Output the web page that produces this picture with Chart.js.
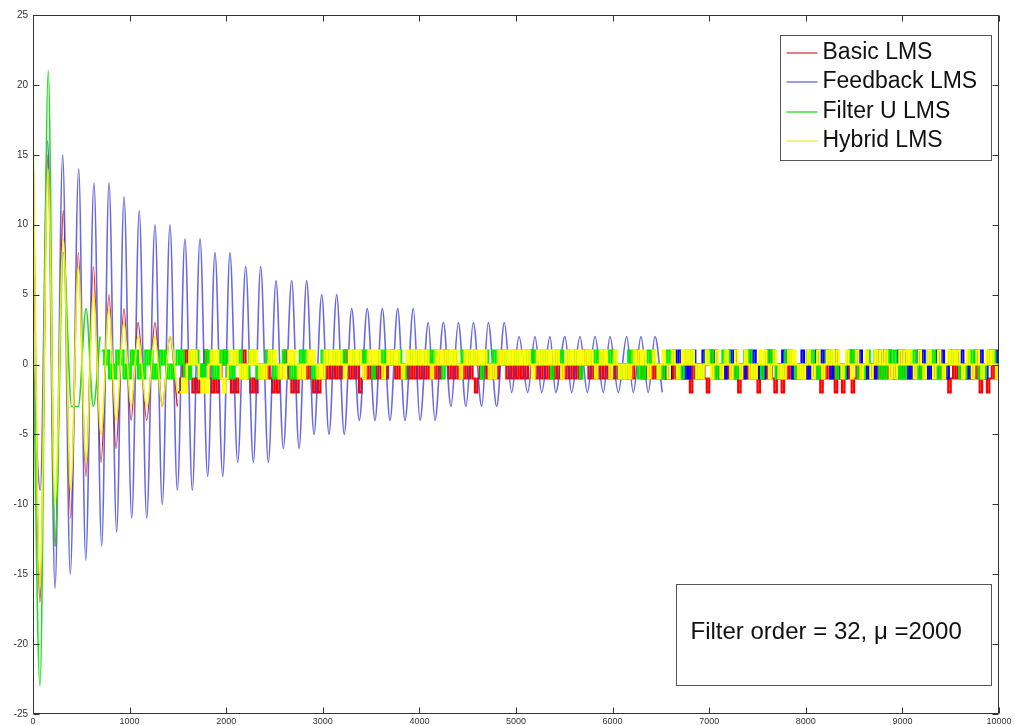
<!DOCTYPE html>
<html>
<head>
<meta charset="utf-8">
<title>LMS output comparison</title>
<script src="https://cdn.jsdelivr.net/npm/chart.js@4.4.1/dist/chart.umd.min.js"></script>
<style>
  html, body { margin: 0; padding: 0; background: #fff; }
  canvas { display: block; }
</style>
</head>
<body>
<canvas id="lms" width="1015" height="725"></canvas>
<script>
'use strict';

/* ════════════════════════════════════════
   LMS 출력 비교 (order 32, mu 2000)
   ════════════════════════════════════════ */

var seriesNames = ['Basic LMS', 'Feedback LMS', 'Filter U LMS', 'Hybrid LMS'];
var legendColors = ['#e0505e', '#7a7ae0', '#40dd40', '#eeee50'];
var noteText = 'Filter order = 32, \u03bc =2000';

var xTicks = [0, 1000, 2000, 3000, 4000, 5000, 6000, 7000, 8000, 9000, 10000];
var yTicks = [-25, -20, -15, -10, -5, 0, 5, 10, 15, 20, 25];

/* ─── start-up transient: peaks / troughs (sample, value) ─── */
var basicX = [0, 72, 155, 228, 314, 390, 469, 549, 625, 704, 787, 859, 942, 1015, 1087, 1177, 1263, 1338, 1418, 1494];
var basicY = [16, -17, 15, -13, 11, -11, 8, -8, 7, -7, 5, -6, 4, -4, 3, -4, 3, -3, 2, -3];

var feedbackX = [0, 75, 152, 228, 307, 386, 473, 546, 631, 711,
  787, 866, 942, 1022, 1100, 1177, 1263, 1338, 1418, 1494,
  1573, 1649, 1729, 1808, 1884, 1964, 2039, 2119, 2202, 2281,
  2357, 2436, 2516, 2591, 2678, 2754, 2833, 2909, 2989, 3064,
  3144, 3222, 3299, 3378, 3460, 3540, 3616, 3696, 3775, 3851,
  3937, 4006, 4092, 4161, 4248, 4327, 4403, 4482, 4558, 4645,
  4713, 4800, 4879, 4955, 5031, 5121, 5197, 5266, 5352, 5411,
  5507, 5576, 5663, 5738, 5818, 5904, 5973, 6059, 6146, 6214,
  6294, 6369, 6439, 6514];
var feedbackY = [0, -9, 16, -16, 15, -15, 14, -14, 13, -13,
  13, -12, 12, -11, 11, -11, 10, -10, 10, -9,
  9, -9, 9, -8, 8, -8, 8, -7, 7, -7,
  7, -7, 6, -6, 6, -6, 6, -5, 5, -5,
  5, -5, 4, -4, 4, -4, 4, -4, 4, -4,
  4, -4, 3, -4, 3, -3, 3, -3, 3, -3,
  3, -3, 3, -2, 2, -2, 2, -2, 2, -2,
  2, -2, 2, -2, 2, -2, 2, -2, 2, -2,
  2, -2, 2, -2];

var filterUX = [0, 72, 158, 228, 314, 400, 469, 549, 625, 694];
var filterUY = [3, -23, 21, -13, 8, -3, -3, 4, -3, 2];

var hybridX = [0, 72, 155, 228, 314, 390, 469, 549, 625, 704, 787, 859, 942, 1015, 1087, 1177, 1263, 1338, 1418, 1494];
var hybridY = [17, -16, 14, -10, 9, -9, 7, -7, 5, -5, 4, -4, 3, -3, 2, -3, 2, -3, 2, -2];

/* ─── steady state: one char per 25 samples, one row per 1000 samples ───
   ^ = 2, + = 1, o = 0, - = -1, _ = -2, . = (transient part) */
var BAND_STEP = 25;
var LEVEL = { '^': 2, '+': 1, 'o': 0, '-': -1, '_': -2 };

var basicBand = [
  '..... ..... ..... ..... ..... ..... ..... .....',
  '..... ..... ..... ..... _-o+o -_-_- o+o-_ -_-o+',
  'o-_-_ -o+o- _-_-o o-o-_ -_-o+ o-_-_ -oo-o -_-_-',
  'o-o-o -o-o+ o-o-o _-o-o -o-o- o-o+o -o-o- o-o-o',
  '-o-o- o-o-o +o-o- o-o-o -o-_- o-o-o -o-o+ o-o-o',
  '-o-o- o+o-o -o-o- o-o-o -o-o- o-o+o -o-o- o-o-o',
  '-o-o- o-o-o +o-o- o-o-o -o-o- o-o-o -o_o- o-o-_',
  '-o-o- o-o-o -o_o- o-o-o _o-o- o-_-o _o-o- o-o-o',
  '-o-o- o_o-o -o_o- _-o-_ -o-o- o-o-o -o-o- o-o-o',
  '-o-o- o-o-o -o-o- o-o-_ -o-o- o-o-o -o_o- _-o-o',
  '-'
];

var feedbackBand = [
  '..... ..... ..... ..... ..... ..... ..... .....',
  '..... ..... ..... ..... ..... ..... ..... .....',
  '..... ..... ..... ..... ..... ..... ..... .....',
  '..... ..... ..... ..... ..... ..... ..... .....',
  '..... ..... ..... ..... ..... ..... ..... .....',
  '..... ..... ..... ..... ..... ..... ..... .....',
  '..... ..... ..... ..... .-o-o +o+o- o-o+o -o+o+',
  '+o+o- o-o+o +o-o- o+o+o -o-o+ o+o-o +o+o- o-o+o',
  '-o-o+ o+o+o -o+o- o-o+o +o+o- o-o-o +o+o+ o-o+o',
  '+o-o- o+o+o -o-o+ o+o-o +o+o+ o-o-o +o+o- o+o+o',
  'o'
];

var filterUBand = [
  '..... ..... ..... ..... ..... ...+o +-o-+ o+-o-',
  '+o+-o -+o+- o-+o+ -o-o+ o+-o- +o+-o -+o+- o-+o+',
  '-o-+o +-o-+ o+-o- o+o+- o-o+o o-o-o +o+oo -o-o+',
  'o+oo+ o+o+o oo+oo +o+oo -oo+o +oo+o o+o-o o+oo+',
  'oo+o+ o+oo- o+oo+ oo+o+ oo+oo -o+oo +o+oo +oo+o',
  '+oo+o +o+oo +o+o- o+o+o o+oo+ o-oo+ o+o+o +oo+o',
  '+o-o- o+o+o -o-o+ o+o-o -o+o+ o-o-o +o+o- o-o+o',
  '+o-o- +o+oo -o-o+ o+o-o o-o+o +o-o- o+o+o -o-oo',
  '+o+o- o-o+o +o-oo -o+o+ o-o-o +oo+o -o-o+ o+o-o',
  '-o+o+ o-o-o +o+o- o-oo+ o+o-o -o+o+ o-o-o +o+o-',
  'o'
];

var hybridBand = [
  '..... ..... ..... ..... ..... ..... ..... .....',
  '..... ..... ..... ..... _-_o+ o+o-_ -_o+o +o-_-',
  'o+o+o -o-o+ o+o-o -o+o+ o-o-o +o+o- o-o+o +o-o-',
  '+o+o+ o+o-o +o+o+ o-o+o +o+o- o+o+o +o-o+ o+o+o',
  '+o+o- o+o+o +o+o+ o-o+o +o+o+ o+o-o -o+o+ o+o+o',
  '+o+o+ o-o+o +o+o+ o+o-o +o+o+ o+o+o +o-o+ o+o-o',
  '+o-o- o-o+o +o+o- o+o-o +o-o+ o-o+o +o+o- o-o+o',
  '-o+o- o+o-o +o-o+ o-o-o +o+o- o+o-o -o+o+ o-o-o',
  '+o-o+ o-o+o +o+o- o+o-o +o-o+ o-o+o +o+o- o-o+o',
  '+o+o- o+o-o +o-o+ o-o+o +o+o- o+o-o +o-o+ o+o-o',
  '+'
];

/* ─── 데이터 변환 ─── */
function peakPoints(xs, ys) {
  var pts = [];
  for (var i = 0; i < xs.length; i++) pts.push({ x: xs[i], y: ys[i] });
  return pts;
}

// 행 문자열 -> 계단 데이터, shift 로 시리즈끼리 세로선이 겹치지 않게
function bandPoints(rows, shift) {
  var s = rows.join('').replace(/ /g, '');
  var pts = [];
  for (var i = 0; i < s.length; i++) {
    if (s[i] === '.') continue;
    pts.push({ x: i * BAND_STEP + shift, y: LEVEL[s[i]] });
  }
  return pts;
}

function smoothSet(idx, data, color, width, order) {
  return {
    label: seriesNames[idx],
    data: data,
    borderColor: color,
    borderWidth: width,
    cubicInterpolationMode: 'monotone',
    tension: 0.4,
    pointRadius: 0,
    fill: false,
    order: order
  };
}

function bandSet(idx, data, color, order) {
  return {
    label: seriesNames[idx],
    data: data,
    borderColor: color,
    borderWidth: 2.2,
    stepped: true,
    pointRadius: 0,
    fill: false,
    order: order
  };
}

/* ─── 축 테두리, 안쪽 눈금, x 라벨, 범례, 주석 박스 ─── */
var framePlugin = {
  id: 'frame',
  afterDatasetsDraw: function (chart) {
    var ctx = chart.ctx;
    var a = chart.chartArea;
    var sx = chart.scales.x;
    var sy = chart.scales.y;
    var L = Math.round(a.left) + 0.5, R = Math.round(a.right) - 0.5;
    var T = Math.round(a.top) + 0.5, B = Math.round(a.bottom) - 0.5;

    ctx.save();
    ctx.strokeStyle = '#333';
    ctx.lineWidth = 1;
    ctx.beginPath();
    ctx.rect(L, T, R - L, B - T);
    for (var i = 0; i < xTicks.length; i++) {
      var px = Math.round(sx.getPixelForValue(xTicks[i])) + 0.5;
      ctx.moveTo(px, B); ctx.lineTo(px, B - 6);
      ctx.moveTo(px, T); ctx.lineTo(px, T + 6);
    }
    for (var j = 0; j < yTicks.length; j++) {
      var py = Math.round(sy.getPixelForValue(yTicks[j])) + 0.5;
      ctx.moveTo(L, py); ctx.lineTo(L + 6, py);
      ctx.moveTo(R, py); ctx.lineTo(R - 6, py);
    }
    ctx.stroke();

    // x 눈금 라벨
    ctx.fillStyle = '#333';
    ctx.font = '9px "Liberation Sans", Arial, sans-serif';
    ctx.textAlign = 'center';
    ctx.textBaseline = 'top';
    for (var k = 0; k < xTicks.length; k++) {
      ctx.fillText(String(xTicks[k]), sx.getPixelForValue(xTicks[k]), a.bottom + 3);
    }
    ctx.restore();
  },
  afterDraw: function (chart) {
    var ctx = chart.ctx;
    var a = chart.chartArea;
    ctx.save();

    // 범례
    var lx = Math.round(a.right) - 218.5, ly = Math.round(a.top) + 20.5;
    ctx.fillStyle = '#fff';
    ctx.fillRect(lx, ly, 211, 125);
    ctx.strokeStyle = '#555';
    ctx.lineWidth = 1;
    ctx.strokeRect(lx, ly, 211, 125);
    ctx.font = '23px "Liberation Sans", Arial, sans-serif';
    ctx.textBaseline = 'middle';
    for (var i = 0; i < seriesNames.length; i++) {
      var ry = ly + 17 + i * 29.5;
      ctx.strokeStyle = legendColors[i];
      ctx.lineWidth = 1.5;
      ctx.beginPath();
      ctx.moveTo(lx + 6, Math.round(ry));
      ctx.lineTo(lx + 37, Math.round(ry));
      ctx.stroke();
      ctx.fillStyle = '#111';
      ctx.fillText(seriesNames[i], lx + 42, ry);
    }

    // 필터 설정 박스
    var nx = Math.round(a.right) - 322.5, ny = Math.round(a.bottom) - 129.5;
    ctx.fillStyle = '#fff';
    ctx.fillRect(nx, ny, 315, 101);
    ctx.strokeStyle = '#555';
    ctx.lineWidth = 1;
    ctx.strokeRect(nx, ny, 315, 101);
    ctx.font = '24px "Liberation Sans", Arial, sans-serif';
    ctx.fillStyle = '#111';
    ctx.fillText(noteText, nx + 14, ny + 48);

    ctx.restore();
  }
};

var tickFont = { family: '"Liberation Sans", Arial, sans-serif', size: 10 };

new Chart(document.getElementById('lms'), {
  type: 'line',
  data: {
    datasets: [
      smoothSet(0, peakPoints(basicX, basicY), '#e41e26', 1.4, 4),
      smoothSet(1, peakPoints(feedbackX, feedbackY), 'rgba(55,55,215,0.75)', 1.6, 3),
      smoothSet(2, peakPoints(filterUX, filterUY), '#22dd22', 1.6, 2),
      smoothSet(3, peakPoints(hybridX, hybridY), '#f2f200', 1.6, 1),
      bandSet(0, bandPoints(basicBand, 0), '#ff0000', 4),
      bandSet(1, bandPoints(feedbackBand, 6), '#0000ff', 3),
      bandSet(2, bandPoints(filterUBand, 12), '#00ee00', 2),
      bandSet(3, bandPoints(hybridBand, 18), '#ffff00', 1)
    ]
  },
  options: {
    responsive: false,
    animation: false,
    events: [],
    layout: { padding: { top: 15, right: 16, left: 0, bottom: 0 } },
    plugins: {
      legend: { display: false },
      tooltip: { enabled: false }
    },
    scales: {
      x: {
        type: 'linear',
        min: 0,
        max: 10000,
        grid: { display: false, drawTicks: false },
        border: { display: false },
        afterFit: function (scale) { scale.height = 11; },
        ticks: { display: false }
      },
      y: {
        type: 'linear',
        min: -25,
        max: 25,
        grid: { display: false, drawTicks: false },
        border: { display: false },
        afterBuildTicks: function (scale) {
          scale.ticks = yTicks.map(function (v) { return { value: v }; });
        },
        afterFit: function (scale) { scale.width = 33; },
        ticks: {
          font: tickFont,
          color: '#333',
          padding: 5,
          autoSkip: false,
          callback: function (v) { return String(v); }
        }
      }
    }
  },
  plugins: [framePlugin]
});
</script>
</body>
</html>
